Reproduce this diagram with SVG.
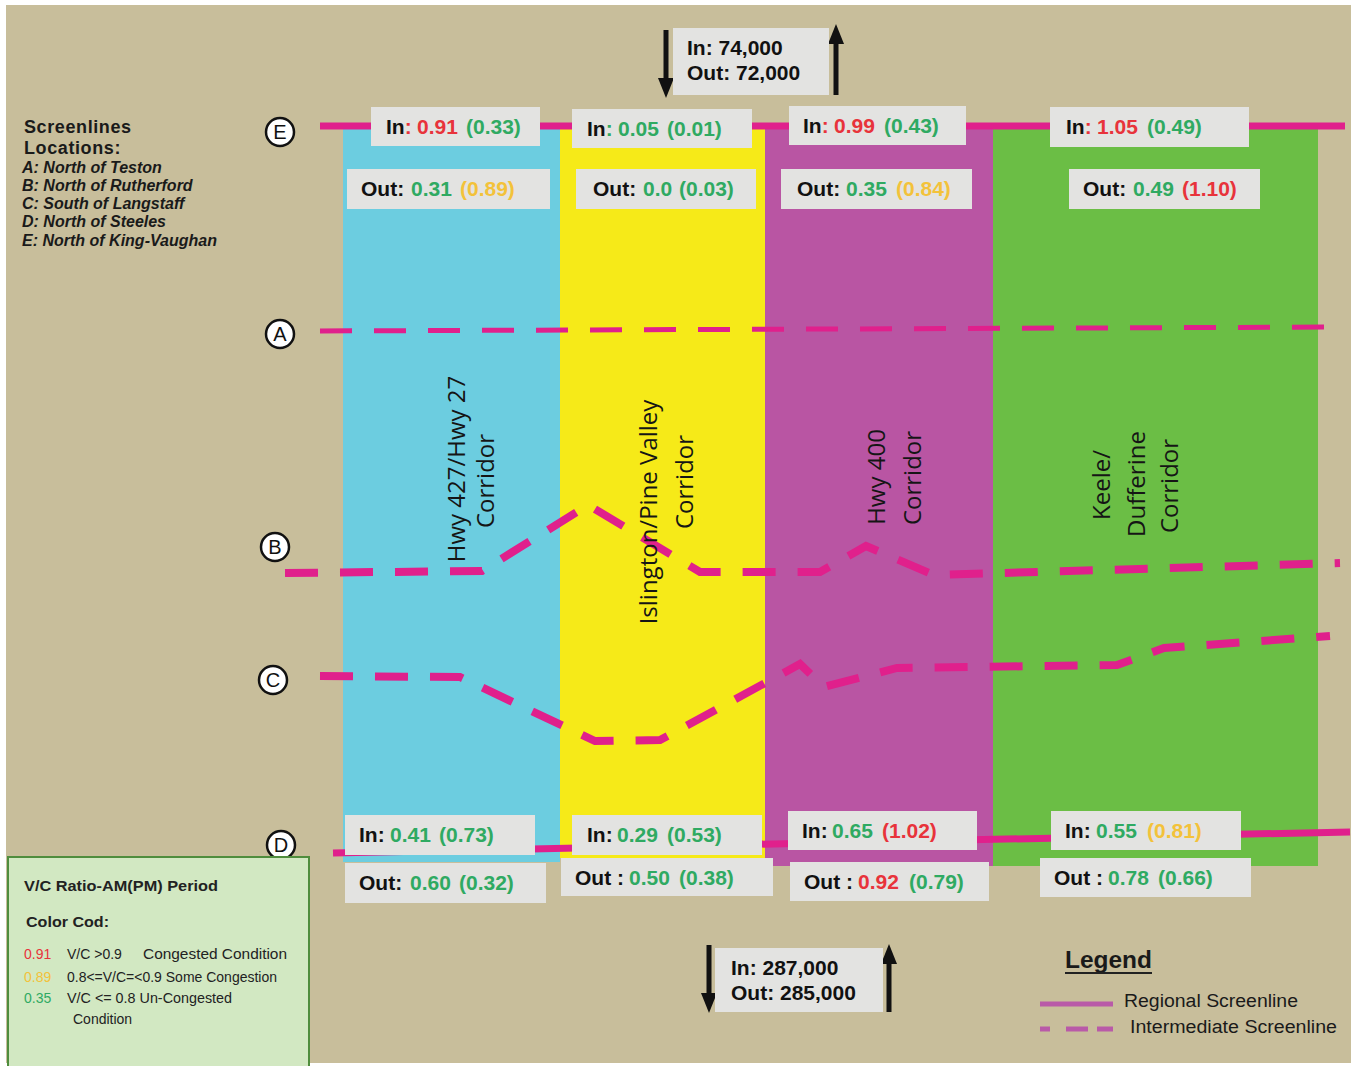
<svg xmlns="http://www.w3.org/2000/svg" width="1356" height="1066" viewBox="0 0 1356 1066">
<style>
.bx{fill:#e3e3e1}
.bt{font-family:"Liberation Sans",Arial,sans-serif;font-size:21px;font-weight:bold;fill:#111}
.r{fill:#e8333b}.g{fill:#2faa62}.y{fill:#f3c23a}
.vl{font-family:"Open Sans","Noto Sans",sans-serif;font-size:24px;font-weight:500;fill:#151515;text-anchor:middle}
.cl{font-family:"Liberation Sans",Arial,sans-serif;font-size:20px;fill:#111;text-anchor:middle}
.circ{fill:#fff;stroke:#111;stroke-width:2.5}
.sol{fill:none;stroke:#e0208c;stroke-width:7}
.dsh{fill:none;stroke:#e0208c;stroke-width:8;stroke-dasharray:33 22}
.arr{stroke:#111;stroke-width:5;fill:none}
.lt{font-family:"Liberation Sans",Arial,sans-serif;fill:#1a1a1a}
.lg{font-family:"Liberation Sans",Arial,sans-serif;font-size:14px;fill:#222}
</style>
<defs>
<marker id="ah" markerUnits="userSpaceOnUse" markerWidth="20" markerHeight="16" refX="0" refY="8" orient="auto">
<path d="M0,0 L20,8 L0,16 Z" fill="#111"/>
</marker>
</defs>
<rect width="1356" height="1066" fill="#ffffff"/>
<rect x="6" y="5" width="1345" height="1058" fill="#c8be9b"/>

<g id="columns">
<rect id="col-hwy427" x="343" y="128" width="217" height="734" fill="#6ccde0"/>
<rect id="col-islington" x="560" y="128" width="205" height="730" fill="#f6ea18"/>
<rect id="col-hwy400" x="765" y="128" width="228" height="738" fill="#b955a3"/>
<rect id="col-keele" x="993" y="128" width="325" height="738" fill="#6bbe45"/>
</g>

<g id="connectors">
<line id="line-E" class="sol" x1="320" y1="126" x2="1345" y2="126"/>
<path id="line-A" d="M320,331 L1338,327" fill="none" stroke="#e0208c" stroke-width="5" stroke-dasharray="32 22"/>
<path id="line-B" class="dsh" d="M285,573 L482,571 L588,505 L700,572 L820,572 L866,546 L934,575 L1340,563"/>
<path id="line-C" class="dsh" d="M320,676 L460,677 L595,741 L660,740 L800,664 L824,687 L897,668 L1117,665 L1164,648 L1330,636" stroke-dasharray="36 24"/>
<line id="line-D" class="sol" x1="333" y1="853" x2="1350" y2="832"/>
<line id="arr-top-in" class="arr" x1="666" y1="30" x2="666" y2="78" marker-end="url(#ah)"/>
<line id="arr-top-out" class="arr" x1="836" y1="95" x2="836" y2="44" marker-end="url(#ah)"/>
<line id="arr-bot-in" class="arr" x1="709" y1="945" x2="709" y2="993" marker-end="url(#ah)"/>
<line id="arr-bot-out" class="arr" x1="889" y1="1012" x2="889" y2="964" marker-end="url(#ah)"/>
</g>

<g id="corridor-labels">
<text class="vl" transform="translate(465,469) rotate(-90)">Hwy 427/Hwy 27</text>
<text class="vl" transform="translate(494,481) rotate(-90)">Corridor</text>
<text class="vl" transform="translate(657,512) rotate(-90)">Islington/Pine Valley</text>
<text class="vl" transform="translate(693,482) rotate(-90)">Corridor</text>
<text class="vl" transform="translate(885,477) rotate(-90)">Hwy 400</text>
<text class="vl" transform="translate(921,478) rotate(-90)">Corridor</text>
<text class="vl" transform="translate(1110,485) rotate(-90)">Keele/</text>
<text class="vl" transform="translate(1145,484) rotate(-90)">Dufferine</text>
<text class="vl" transform="translate(1178,486) rotate(-90)">Corridor</text>
</g>

<g id="markers">
<g id="m-E"><circle class="circ" cx="280" cy="132" r="14"/><text class="cl" x="280" y="139">E</text></g>
<g id="m-A"><circle class="circ" cx="280" cy="334" r="14"/><text class="cl" x="280" y="341">A</text></g>
<g id="m-B"><circle class="circ" cx="275" cy="547" r="14"/><text class="cl" x="275" y="554">B</text></g>
<g id="m-C"><circle class="circ" cx="273" cy="680" r="14"/><text class="cl" x="273" y="687">C</text></g>
<g id="m-D"><circle class="circ" cx="281" cy="845" r="14"/><text class="cl" x="281" y="852">D</text></g>
</g>

<g id="locations">
<text class="lt" x="24" y="133" font-size="18" font-weight="bold" letter-spacing="0.6">Screenlines</text>
<text class="lt" x="24" y="154" font-size="18" font-weight="bold" letter-spacing="0.6">Locations:</text>
<g font-size="16" font-weight="bold" font-style="italic">
<text class="lt" x="22" y="173">A: North of Teston</text>
<text class="lt" x="22" y="191">B: North of Rutherford</text>
<text class="lt" x="22" y="209">C: South of Langstaff</text>
<text class="lt" x="22" y="227">D: North of Steeles</text>
<text class="lt" x="22" y="246">E: North of King-Vaughan</text>
</g>
</g>

<g id="top-total">
<rect class="bx" x="673" y="28" width="156" height="67"/>
<text class="bt" x="687" y="55">In: 74,000</text>
<text class="bt" x="687" y="80">Out: 72,000</text>
</g>
<g id="bottom-total">
<rect class="bx" x="715" y="948" width="168" height="64"/>
<text class="bt" x="731" y="975">In: 287,000</text>
<text class="bt" x="731" y="1000">Out: 285,000</text>
</g>

<g id="top-in-1"><rect class="bx" x="371" y="107" width="169" height="39"/><text class="bt" y="134"><tspan x="386">In</tspan><tspan class="r">:</tspan><tspan x="417" class="r">0.91</tspan><tspan x="466" class="g">(0.33)</tspan></text></g>
<g id="top-in-2"><rect class="bx" x="572" y="109" width="180" height="39"/><text class="bt" y="136"><tspan x="587">In</tspan><tspan class="g">:</tspan><tspan x="618" class="g">0.05</tspan><tspan x="667" class="g">(0.01)</tspan></text></g>
<g id="top-in-3"><rect class="bx" x="789" y="106" width="177" height="39"/><text class="bt" y="133"><tspan x="803">In</tspan><tspan class="r">:</tspan><tspan x="834" class="r">0.99</tspan><tspan x="884" class="g">(0.43)</tspan></text></g>
<g id="top-in-4"><rect class="bx" x="1050" y="107" width="199" height="40"/><text class="bt" y="134"><tspan x="1066">In</tspan><tspan class="r">:</tspan><tspan x="1097" class="r">1.05</tspan><tspan x="1147" class="g">(0.49)</tspan></text></g>

<g id="top-out-1"><rect class="bx" x="347" y="169" width="203" height="40"/><text class="bt" y="196"><tspan x="361">Out:</tspan><tspan x="411" class="g">0.31</tspan><tspan x="460" class="y">(0.89)</tspan></text></g>
<g id="top-out-2"><rect class="bx" x="576" y="169" width="180" height="40"/><text class="bt" y="196"><tspan x="593">Out:</tspan><tspan x="643" class="g">0.0</tspan><tspan x="679" class="g">(0.03)</tspan></text></g>
<g id="top-out-3"><rect class="bx" x="781" y="169" width="191" height="40"/><text class="bt" y="196"><tspan x="797">Out:</tspan><tspan x="846" class="g">0.35</tspan><tspan x="896" class="y">(0.84)</tspan></text></g>
<g id="top-out-4"><rect class="bx" x="1069" y="169" width="191" height="40"/><text class="bt" y="196"><tspan x="1083">Out:</tspan><tspan x="1133" class="g">0.49</tspan><tspan x="1182" class="r">(1.10)</tspan></text></g>

<g id="bot-in-1"><rect class="bx" x="345" y="815" width="190" height="40"/><text class="bt" y="842"><tspan x="359">In:</tspan><tspan x="390" class="g">0.41</tspan><tspan x="439" class="g">(0.73)</tspan></text></g>
<g id="bot-out-1"><rect class="bx" x="345" y="863" width="201" height="40"/><text class="bt" y="890"><tspan x="359">Out:</tspan><tspan x="410" class="g">0.60</tspan><tspan x="459" class="g">(0.32)</tspan></text></g>
<g id="bot-in-2"><rect class="bx" x="572" y="815" width="190" height="40"/><text class="bt" y="842"><tspan x="587">In:</tspan><tspan x="617" class="g">0.29</tspan><tspan x="667" class="g">(0.53)</tspan></text></g>
<g id="bot-out-2"><rect class="bx" x="561" y="858" width="212" height="38"/><text class="bt" y="885"><tspan x="575">Out :</tspan><tspan x="629" class="g">0.50</tspan><tspan x="679" class="g">(0.38)</tspan></text></g>
<g id="bot-in-3"><rect class="bx" x="788" y="811" width="189" height="39"/><text class="bt" y="838"><tspan x="802">In:</tspan><tspan x="832" class="g">0.65</tspan><tspan x="882" class="r">(1.02)</tspan></text></g>
<g id="bot-out-3"><rect class="bx" x="790" y="862" width="199" height="39"/><text class="bt" y="889"><tspan x="804">Out :</tspan><tspan x="858" class="r">0.92</tspan><tspan x="909" class="g">(0.79)</tspan></text></g>
<g id="bot-in-4"><rect class="bx" x="1051" y="811" width="190" height="39"/><text class="bt" y="838"><tspan x="1065">In:</tspan><tspan x="1096" class="g">0.55</tspan><tspan x="1147" class="y">(0.81)</tspan></text></g>
<g id="bot-out-4"><rect class="bx" x="1040" y="858" width="211" height="39"/><text class="bt" y="885"><tspan x="1054">Out :</tspan><tspan x="1108" class="g">0.78</tspan><tspan x="1158" class="g">(0.66)</tspan></text></g>

<g id="color-legend">
<rect x="8" y="857" width="301" height="212" fill="#d2e8c2" stroke="#4f8d3d" stroke-width="2"/>
<text class="lg" x="24" y="891" font-size="15" font-weight="bold" textLength="194" lengthAdjust="spacingAndGlyphs">V/C Ratio-AM(PM) Period</text>
<text class="lg" x="26" y="927" font-size="15" font-weight="bold" textLength="83" lengthAdjust="spacingAndGlyphs">Color Cod:</text>
<text class="lg" x="24" y="959" font-size="13" style="fill:#e8333b">0.91</text>
<text class="lg" x="67" y="959" font-size="13">V/C &gt;0.9</text>
<text class="lg" x="143" y="959" textLength="144" lengthAdjust="spacingAndGlyphs">Congested Condition</text>
<text class="lg" x="24" y="982" font-size="13" style="fill:#f3c23a">0.89</text>
<text class="lg" x="67" y="982" font-size="13" textLength="210" lengthAdjust="spacingAndGlyphs">0.8&lt;=V/C=&lt;0.9  Some  Congestion</text>
<text class="lg" x="24" y="1003" font-size="13" style="fill:#2faa62">0.35</text>
<text class="lg" x="67" y="1003" font-size="13" textLength="165" lengthAdjust="spacingAndGlyphs">V/C &lt;= 0.8  Un-Congested</text>
<text class="lg" x="73" y="1024" font-size="13">Condition</text>
</g>

<g id="line-legend">
<text class="lt" x="1065" y="968" font-size="23" font-weight="bold" fill="#222" textLength="87" lengthAdjust="spacingAndGlyphs">Legend</text>
<line x1="1065" y1="973" x2="1152" y2="973" stroke="#222" stroke-width="2"/>
<line x1="1040" y1="1004" x2="1113" y2="1004" stroke="#b95aa8" stroke-width="5"/>
<text class="lt" x="1124" y="1007" font-size="18" fill="#3a3a3a" textLength="174" lengthAdjust="spacingAndGlyphs">Regional Screenline</text>
<path d="M1040,1029 H1050 M1066,1029 H1088 M1097,1029 H1113" stroke="#b95aa8" stroke-width="5" fill="none"/>
<text class="lt" x="1130" y="1033" font-size="18" fill="#3a3a3a" textLength="207" lengthAdjust="spacingAndGlyphs">Intermediate  Screenline</text>
</g>
</svg>
